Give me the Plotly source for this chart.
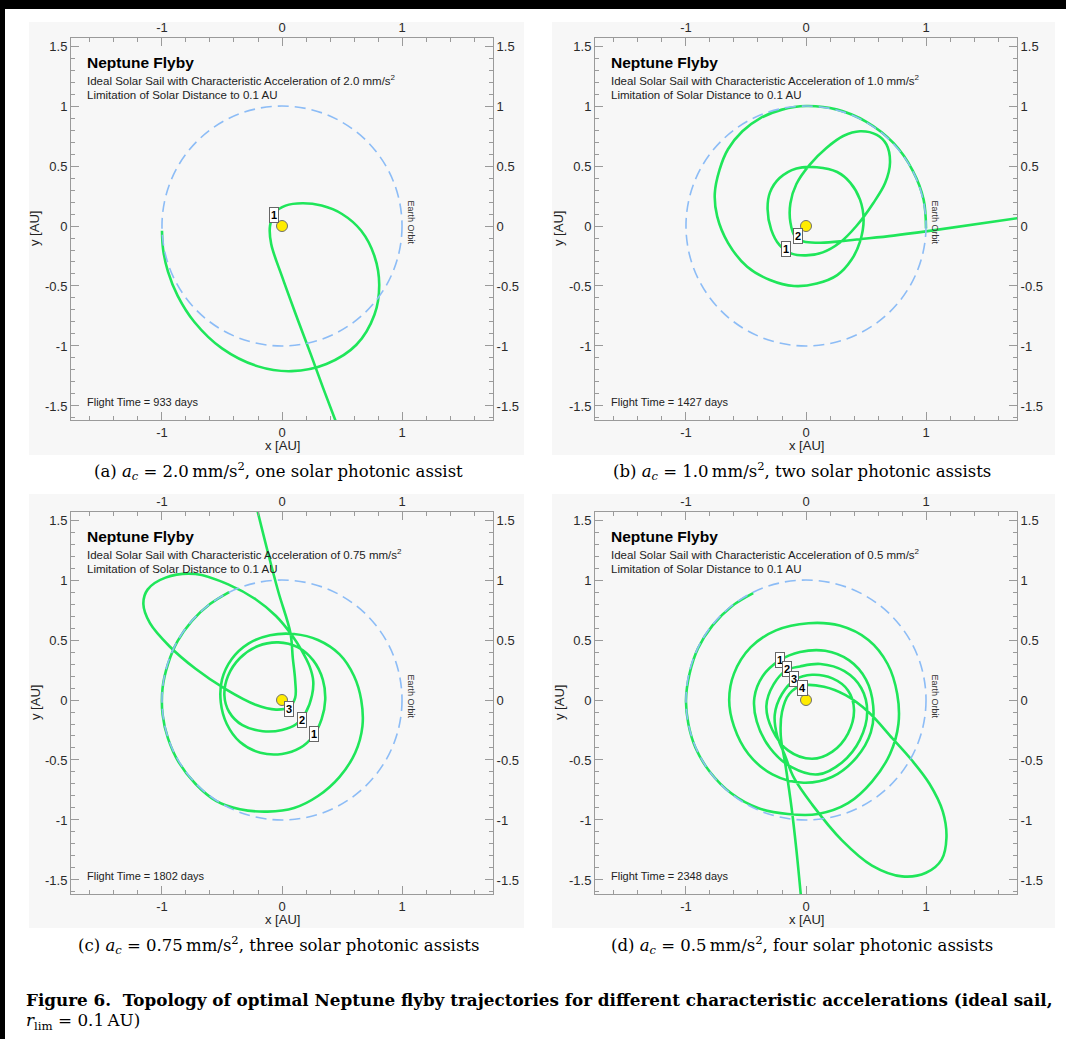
import plotly.graph_objects as go

W, H = 1066, 1039

# ---------------- data ----------------
X_RANGE = [-1.758, 1.758]
Y_RANGE = [-1.617, 1.567]
X_TICKS = [-1, 0, 1]
X_TICKTEXT = ["-1", "0", "1"]
Y_TICKS = [-1.5, -1, -0.5, 0, 0.5, 1, 1.5]
Y_TICKTEXT = ["-1.5", "-1", "-0.5", "0", "0.5", "1", "1.5"]
X_MINOR = [round(-1.6 + 0.2 * k, 2) for k in range(17)]
Y_MINOR = [round(-1.6 + 0.1 * k, 2) for k in range(32)]

EARTH_R = 1.0
SUN_X = [0.0]
SUN_Y = [0.0]

ACCEL = ["2.0", "1.0", "0.75", "0.5"]
ACCEL_CAP = ["2.0", "1.0", "0.75", "0.5"]
ASSISTS = ["one solar photonic assist", "two solar photonic assists",
           "three solar photonic assists", "four solar photonic assists"]
FLIGHT_DAYS = [933, 1427, 1802, 2348]
LETTERS = ["a", "b", "c", "d"]

# panel (a)
A_X = [-1.0, -0.99, -0.95, -0.87, -0.73, -0.5, -0.2, 0.08, 0.37, 0.62, 0.77, 0.81,
       0.77, 0.66, 0.5, 0.33, 0.17, 0.03, -0.06, -0.1, -0.09, 0.0, 0.12, 0.24, 0.35, 0.46]
A_Y = [-0.04, -0.2, -0.38, -0.58, -0.8, -1.02, -1.17, -1.21, -1.15, -0.99, -0.74, -0.49,
       -0.25, -0.04, 0.1, 0.17, 0.19, 0.17, 0.11, 0.0, -0.15, -0.42, -0.75, -1.07, -1.37, -1.66]
A_BOX_X = [-0.07]
A_BOX_Y = [0.09]

# panel (b)
B_X = [1.0, 0.98, 0.89, 0.73, 0.5, 0.26, 0.0, -0.2, -0.38, -0.53, -0.65, -0.72, -0.76, -0.74,
       -0.65, -0.49, -0.3, -0.1, 0.09, 0.26, 0.38, 0.45, 0.48, 0.45, 0.37, 0.26, 0.09, -0.08,
       -0.22, -0.3, -0.32, -0.29, -0.22, -0.12, 0.0, 0.14, 0.28, 0.42, 0.56, 0.66, 0.7, 0.67,
       0.59, 0.45, 0.31, 0.17, 0.03, -0.08, -0.13, -0.13, -0.09, -0.02, 0.09, 0.26, 0.45,
       0.73, 1.0, 1.76]
B_Y = [-0.02, 0.22, 0.46, 0.69, 0.87, 0.97, 1.0, 0.97, 0.9, 0.79, 0.64, 0.47, 0.27, 0.08,
       -0.14, -0.34, -0.45, -0.5, -0.48, -0.41, -0.28, -0.13, 0.05, 0.22, 0.36, 0.45, 0.49,
       0.48, 0.4, 0.28, 0.14, -0.03, -0.16, -0.23, -0.245, -0.22, -0.14, 0.0, 0.19, 0.36,
       0.53, 0.68, 0.76, 0.79, 0.75, 0.65, 0.51, 0.35, 0.19, 0.03, -0.09, -0.13, -0.14,
       -0.13, -0.11, -0.08, -0.045, 0.065]
B_BOX_X = [-0.17, -0.065]
B_BOX_Y = [-0.19, -0.08]

# panel (c)
C_X = [-0.44, -0.6, -0.75, -0.87, -0.95, -0.995, -0.995, -0.95, -0.86, -0.72, -0.55, -0.35,
       -0.12, 0.1, 0.3, 0.48, 0.61, 0.67, 0.66, 0.6, 0.48, 0.3, 0.1, -0.1, -0.28, -0.42, -0.5,
       -0.51, -0.46, -0.35, -0.18, 0.0, 0.15, 0.26, 0.33, 0.36, 0.34, 0.26, 0.13, -0.03, -0.2,
       -0.35, -0.45, -0.48, -0.44, -0.33, -0.16, 0.0, 0.12, 0.2, 0.25, 0.26, 0.23, 0.16, 0.09,
       -0.05, -0.22, -0.44, -0.72, -0.97, -1.12, -1.155, -1.1, -0.94, -0.72, -0.47, -0.22,
       -0.05, 0.06, 0.11, 0.11, 0.09, 0.07, -0.03, -0.12, -0.21]
C_Y = [0.9, 0.8, 0.66, 0.49, 0.3, 0.1, -0.12, -0.32, -0.52, -0.7, -0.84, -0.91, -0.93, -0.9,
       -0.8, -0.64, -0.44, -0.22, 0.0, 0.2, 0.38, 0.5, 0.55, 0.54, 0.47, 0.34, 0.17, -0.02,
       -0.2, -0.35, -0.44, -0.45, -0.4, -0.3, -0.16, 0.0, 0.17, 0.33, 0.44, 0.48, 0.45, 0.35,
       0.2, 0.04, -0.1, -0.21, -0.26, -0.25, -0.2, -0.1, 0.04, 0.16, 0.28, 0.42, 0.53, 0.7,
       0.84, 0.96, 1.05, 1.02, 0.92, 0.8, 0.64, 0.45, 0.26, 0.09, -0.04, -0.08, -0.06, 0.02,
       0.16, 0.35, 0.56, 0.9, 1.24, 1.6]
C_BOX_X = [0.27, 0.165, 0.056]
C_BOX_Y = [-0.28, -0.17, -0.072]

# panel (d)
D_X = [-0.44, -0.62, -0.78, -0.9, -0.97, -1.0, -0.98, -0.92, -0.8, -0.62, -0.4, -0.15, 0.1,
       0.35, 0.55, 0.7, 0.77, 0.76, 0.68, 0.52, 0.28, 0.02, -0.25, -0.46, -0.6, -0.64, -0.6,
       -0.48, -0.28, -0.02, 0.22, 0.42, 0.54, 0.56, 0.5, 0.36, 0.16, -0.05, -0.22, -0.36,
       -0.43, -0.41, -0.3, -0.12, 0.1, 0.3, 0.45, 0.51, 0.46, 0.32, 0.12, -0.05, -0.16,
       -0.27, -0.33, -0.28, -0.15, 0.05, 0.22, 0.35, 0.4, 0.35, 0.22, 0.05, -0.09, -0.2,
       -0.26, -0.24, -0.18, -0.1, 0.05, 0.3, 0.55, 0.8, 1.0, 1.13, 1.17, 1.14, 1.03, 0.88,
       0.72, 0.52, 0.33, 0.15, -0.03, -0.14, -0.2, -0.21, -0.17, -0.12, -0.08, -0.04]
D_Y = [0.89, 0.78, 0.62, 0.43, 0.22, 0.0, -0.2, -0.4, -0.6, -0.78, -0.9, -0.95, -0.95,
       -0.86, -0.68, -0.45, -0.2, 0.05, 0.3, 0.5, 0.62, 0.64, 0.58, 0.44, 0.22, 0.0, -0.22,
       -0.45, -0.62, -0.69, -0.64, -0.48, -0.27, -0.05, 0.17, 0.33, 0.41, 0.4, 0.33, 0.2,
       0.02, -0.18, -0.4, -0.56, -0.62, -0.52, -0.33, -0.1, 0.1, 0.24, 0.3, 0.28, 0.25,
       0.13, -0.05, -0.25, -0.42, -0.49, -0.43, -0.28, -0.08, 0.08, 0.18, 0.21, 0.17, 0.05,
       -0.12, -0.3, -0.45, -0.65, -0.87, -1.17, -1.38, -1.47, -1.44, -1.33, -1.15, -0.93,
       -0.7, -0.5, -0.32, -0.1, 0.04, 0.11, 0.12, 0.05, -0.1, -0.3, -0.55, -0.9, -1.25, -1.66]
D_BOX_X = [-0.22, -0.158, -0.097, -0.028]
D_BOX_Y = [0.335, 0.257, 0.176, 0.103]

TRAJ_X = [A_X, B_X, C_X, D_X]
TRAJ_Y = [A_Y, B_Y, C_Y, D_Y]
BOX_X = [A_BOX_X, B_BOX_X, C_BOX_X, D_BOX_X]
BOX_Y = [A_BOX_Y, B_BOX_Y, C_BOX_Y, D_BOX_Y]

# ---------------- layout helpers ----------------
PANEL_BOXES = [(71, 38, 493, 420), (595, 38, 1017, 420),
               (71, 512, 493, 894), (595, 512, 1017, 894)]
PANEL_BG = [(29, 22, 524, 455), (552, 22, 1055, 455),
            (29, 494, 524, 928), (552, 494, 1055, 928)]
CAPTION_Y = [471, 471, 945, 945]


def fx(p):
    return p / W


def fy(p):
    return 1 - p / H


GREEN = "#1fe65a"
BLUE = "#8cbcf6"
AXC = "#9a9a9a"
SANS = "Liberation Sans, Arial, sans-serif"
SERIF = "DejaVu Serif, Liberation Serif, serif"

fig = go.Figure()
layout = dict(width=W, height=H, margin=dict(l=0, r=0, t=0, b=0),
              paper_bgcolor="white", plot_bgcolor="rgba(0,0,0,0)",
              showlegend=False, shapes=[], annotations=[])

common = dict(showgrid=False, zeroline=False, showline=True, linecolor=AXC, linewidth=1,
              ticks="inside", ticklen=8, tickwidth=1, tickcolor=AXC,
              tickfont=dict(family=SANS, size=13, color="#2a2a2a"), fixedrange=True)

for i in range(4):
    n = i + 1
    m = i + 5
    xs = "" if n == 1 else str(n)
    l, t, r, b = PANEL_BOXES[i]
    xdom = [fx(l), fx(r)]
    ydom = [fy(b), fy(t)]
    xminor = dict(tickmode="array", tickvals=X_MINOR, ticks="inside", ticklen=4, tickcolor=AXC)
    yminor = dict(tickmode="array", tickvals=Y_MINOR, ticks="inside", ticklen=4, tickcolor=AXC)
    layout["xaxis" + xs] = dict(common, domain=xdom, range=X_RANGE, anchor="y" + xs,
                               tickmode="array", tickvals=X_TICKS, ticktext=X_TICKTEXT,
                               minor=xminor, side="bottom")
    layout["yaxis" + xs] = dict(common, domain=ydom, range=Y_RANGE, anchor="x" + xs,
                               tickmode="array", tickvals=Y_TICKS, ticktext=Y_TICKTEXT,
                               minor=yminor, side="left")
    layout["xaxis" + str(m)] = dict(common, range=X_RANGE, anchor="y" + xs,
                                   overlaying="x" + xs, side="top",
                                   tickmode="array", tickvals=X_TICKS, ticktext=X_TICKTEXT,
                                   minor=xminor)
    layout["yaxis" + str(m)] = dict(common, range=Y_RANGE, anchor="x" + xs,
                                   overlaying="y" + xs, side="right",
                                   tickmode="array", tickvals=Y_TICKS, ticktext=Y_TICKTEXT,
                                   minor=yminor)

    # helper traces so the overlay axes are drawn
    fig.add_trace(go.Scatter(x=[None], y=[None], xaxis="x" + str(m), yaxis="y" + xs,
                             hoverinfo="skip", showlegend=False))
    fig.add_trace(go.Scatter(x=[None], y=[None], xaxis="x" + xs, yaxis="y" + str(m),
                             hoverinfo="skip", showlegend=False))

    # trajectory
    fig.add_trace(go.Scatter(x=TRAJ_X[i], y=TRAJ_Y[i], mode="lines",
                             line=dict(color=GREEN, width=2.6, shape="spline", smoothing=1.0),
                             xaxis="x" + xs, yaxis="y" + xs, hoverinfo="skip"))
    # sun
    fig.add_trace(go.Scatter(x=SUN_X, y=SUN_Y, mode="markers",
                             marker=dict(size=11, color="#ffec00",
                                         line=dict(color="#707070", width=1)),
                             xaxis="x" + xs, yaxis="y" + xs, hoverinfo="skip"))

    # panel background
    bl, bt, br, bb = PANEL_BG[i]
    layout["shapes"].append(dict(type="rect", xref="paper", yref="paper",
                                 x0=fx(bl), x1=fx(br), y0=fy(bb), y1=fy(bt),
                                 fillcolor="#f7f7f7", line=dict(width=0), layer="below"))
    # Earth orbit
    layout["shapes"].append(dict(type="circle", xref="x" + xs, yref="y" + xs,
                                 x0=-EARTH_R, x1=EARTH_R, y0=-EARTH_R, y1=EARTH_R,
                                 line=dict(color=BLUE, width=1.6, dash="11px,6px"),
                                 layer="above"))

    ax_ref = dict(xref="x" + xs, yref="y" + xs)
    # texts in the plot
    layout["annotations"].append(dict(ax_ref, x=-1.645, y=1.365, text="<b>Neptune Flyby</b>",
                                      showarrow=False, xanchor="left", yanchor="middle",
                                      font=dict(family=SANS, size=15.5, color="black")))
    layout["annotations"].append(dict(ax_ref, x=-1.645, y=1.215,
                                      text="Ideal Solar Sail with Characteristic Acceleration of "
                                           + ACCEL[i] + " mm/s<sup>2</sup>",
                                      showarrow=False, xanchor="left", yanchor="middle",
                                      font=dict(family=SANS, size=11.5, color="#222")))
    layout["annotations"].append(dict(ax_ref, x=-1.645, y=1.09,
                                      text="Limitation of Solar Distance to 0.1 AU",
                                      showarrow=False, xanchor="left", yanchor="middle",
                                      font=dict(family=SANS, size=11.5, color="#222")))
    layout["annotations"].append(dict(ax_ref, x=-1.645, y=-1.47,
                                      text="Flight Time = %d days" % FLIGHT_DAYS[i],
                                      showarrow=False, xanchor="left", yanchor="middle",
                                      font=dict(family=SANS, size=11, color="#222")))
    layout["annotations"].append(dict(ax_ref, x=1.075, y=0.03, text="Earth Orbit",
                                      showarrow=False, textangle=90,
                                      xanchor="center", yanchor="middle",
                                      font=dict(family=SANS, size=9, color="#333")))
    for k in range(len(BOX_X[i])):
        layout["annotations"].append(dict(ax_ref, x=BOX_X[i][k], y=BOX_Y[i][k],
                                          text="<b>%d</b>" % (k + 1), showarrow=False,
                                          xanchor="center", yanchor="middle",
                                          bgcolor="white", bordercolor="#666", borderwidth=1,
                                          borderpad=1,
                                          font=dict(family=SANS, size=11, color="black")))
    # axis titles
    cx = (l + r) / 2
    layout["annotations"].append(dict(xref="paper", yref="paper", x=fx(cx), y=fy(b + 25),
                                      xanchor="center", yanchor="middle",
                                      text="x [AU]", showarrow=False,
                                      font=dict(family=SANS, size=13, color="#222")))
    layout["annotations"].append(dict(xref="paper", yref="paper", x=fx(l - 36),
                                      y=fy((t + b) / 2), text="y [AU]", showarrow=False,
                                      xanchor="center", yanchor="middle", textangle=-90,
                                      font=dict(family=SANS, size=13, color="#222")))
    # caption
    layout["annotations"].append(dict(xref="paper", yref="paper", x=fx(cx - 4), y=fy(CAPTION_Y[i]),
                                      xanchor="center", yanchor="middle",
                                      text="(%s) <i>a<sub>c</sub></i> = %s\u2009mm/s<sup>2</sup>, %s"
                                           % (LETTERS[i], ACCEL_CAP[i], ASSISTS[i]),
                                      showarrow=False,
                                      font=dict(family=SERIF, size=16.5, color="black")))

# black frame bands
layout["shapes"].append(dict(type="rect", xref="paper", yref="paper", x0=0, x1=1,
                             y0=fy(9), y1=1, fillcolor="black", line=dict(width=0),
                             layer="below"))
layout["shapes"].append(dict(type="rect", xref="paper", yref="paper", x0=0, x1=fx(5),
                             y0=0, y1=1, fillcolor="black", line=dict(width=0), layer="below"))

# figure caption
layout["annotations"].append(dict(xref="paper", yref="paper", x=fx(24), y=fy(1000),
                                  xanchor="left", yanchor="middle", showarrow=False,
                                  text="<b>Figure 6.\u00a0\u00a0Topology of optimal Neptune flyby "
                                       "trajectories for different characteristic accelerations "
                                       "(ideal sail,</b>",
                                  font=dict(family=SERIF, size=16.8, color="black")))
layout["annotations"].append(dict(xref="paper", yref="paper", x=fx(24), y=fy(1021),
                                  xanchor="left", yanchor="middle", showarrow=False,
                                  text="<i>r</i><sub>lim</sub> = 0.1\u2009AU)",
                                  font=dict(family=SERIF, size=16.8, color="black")))

fig.update_layout(**layout)
fig.write_html("out.html")
